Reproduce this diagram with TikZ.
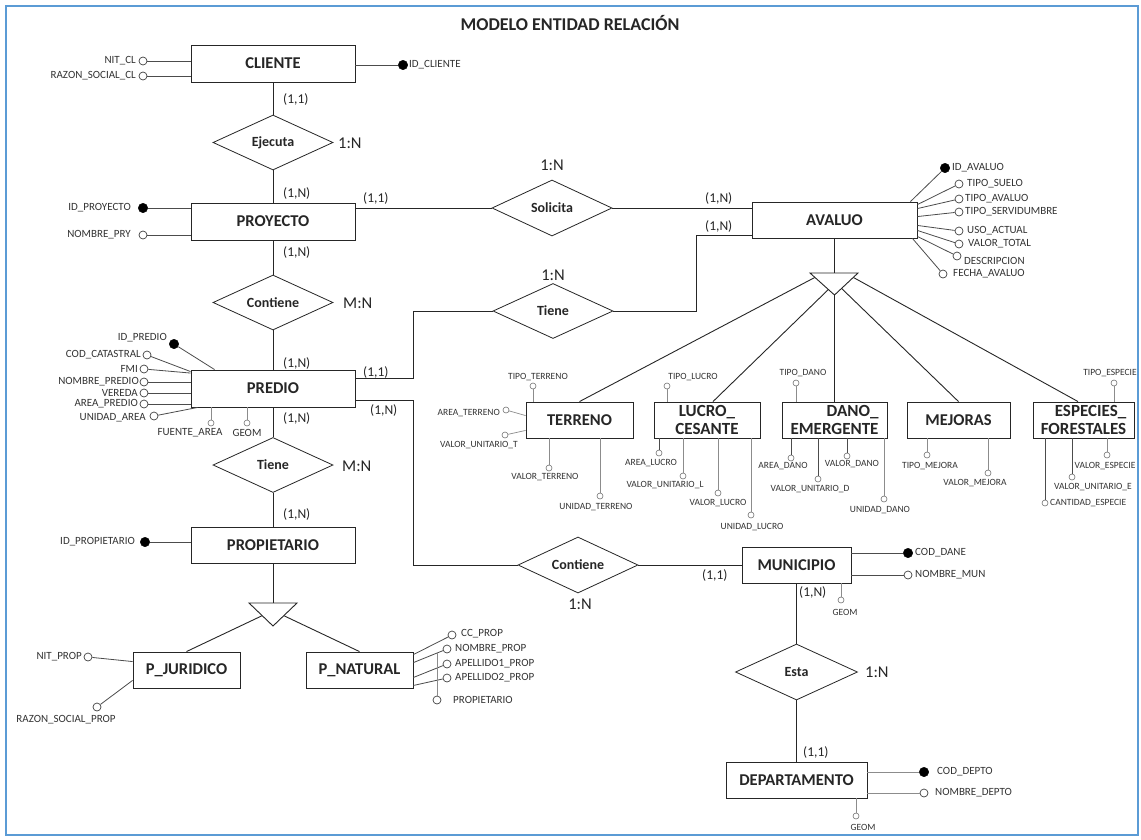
\documentclass[tikz,border=0pt]{standalone}
\usepackage{fontspec}
\setmainfont{Carlito}
\usetikzlibrary{shapes.geometric,calc}
\definecolor{frameblue}{HTML}{5B9BD5}
\definecolor{ink}{HTML}{262626}
\newcommand\TitF{\fontsize{18}{20}\selectfont\bfseries}
\newcommand\EntF{\fontsize{16.5}{18}\selectfont\bfseries}
\newcommand\EntTwoF{\fontsize{17}{18}\selectfont\bfseries}
\newcommand\RelF{\fontsize{14}{16}\selectfont\bfseries}
\newcommand\CardF{\fontsize{13.5}{15}\selectfont}
\newcommand\RatF{\fontsize{16.5}{18}\selectfont}
\newcommand\AttF{\fontsize{11}{12}\selectfont}
\newcommand\SAttF{\fontsize{9.5}{11}\selectfont}
\tikzset{
  ent/.style={draw=ink, line width=0.9pt, fill=white, font=\EntF, text=ink, minimum height=36pt, inner sep=0pt},
  enttwo/.style={ent, font=\EntTwoF},
  rel/.style={diamond, draw=ink, line width=0.8pt, fill=white, aspect=2.2, minimum width=120pt, minimum height=55pt, inner sep=0pt, font=\RelF, text=ink},
  card/.style={font=\CardF, inner sep=0pt, anchor=west, text=ink},
  ratio/.style={font=\RatF, inner sep=0pt, text=ink},
  att/.style={circle, draw=black!75, line width=0.7pt, fill=white, minimum size=8pt, inner sep=0pt},
  keyatt/.style={circle, draw=black, fill=black, minimum size=9.5pt, inner sep=0pt},
  satt/.style={circle, draw=black!55, line width=0.6pt, fill=white, minimum size=6pt, inner sep=0pt},
  lab/.style={font=\AttF, inner sep=0pt, text=black!80},
  slab/.style={font=\SAttF, inner sep=0pt, text=black!80},
  conn/.style={draw=ink, line width=0.9pt},
  aconn/.style={draw=black!70, line width=0.8pt},
  sconn/.style={draw=black!45, line width=0.7pt},
}
\begin{document}
\begin{tikzpicture}[x=1pt,y=-1pt]
\useasboundingbox (0,0) rectangle (1141,839);
\fill[white] (0,0) rectangle (1141,839);
\draw[frameblue, line width=2.2pt] (6,6) rectangle (1138,835);

\node[font=\TitF, text=ink, inner sep=0pt] (title) at (570,23) {MODELO ENTIDAD RELACIÓN};

% ---------------- entities
\node[ent, minimum width=164pt, minimum height=37pt] (cli) at (273,63.5) {CLIENTE};
\node[ent, minimum width=164pt, minimum height=37pt] (pry) at (273,221.5) {PROYECTO};
\node[ent, minimum width=164pt, minimum height=37pt] (pre) at (273,388.5) {PREDIO};
\node[ent, minimum width=164pt] (prop) at (273,545) {PROPIETARIO};
\node[ent, minimum width=107pt] (pj) at (186.5,670) {P\_JURIDICO};
\node[ent, minimum width=107pt] (pn) at (359.5,670) {P\_NATURAL};
\node[ent, minimum width=165pt] (ava) at (834.5,220) {AVALUO};
\node[ent, minimum width=107pt] (ter) at (579.5,420) {TERRENO};
\node[enttwo, align=center, minimum width=106pt] (luc) at (707,420) {LUCRO\_\\CESANTE};
\node[enttwo, align=right, minimum width=105pt] (dan) at (834.5,420) {DANO\_\\EMERGENTE};
\node[ent, minimum width=103pt] (mej) at (958.5,420) {MEJORAS};
\node[enttwo, align=right, minimum width=101pt] (esp) at (1083.5,420) {ESPECIES\_\\FORESTALES};
\node[ent, minimum width=109pt] (mun) at (796.5,565) {MUNICIPIO};
\node[ent, minimum width=141pt] (dep) at (796.5,780) {DEPARTAMENTO};

% ---------------- relationships
\node[rel] (eje) at (273,142.5) {Ejecuta};
\node[rel] (cont1) at (273,302.5) {Contiene};
\node[rel] (tiene2) at (273,465) {Tiene};
\node[rel, minimum height=56pt] (sol) at (552,208) {Solicita};
\node[rel] (tiene1) at (553,311) {Tiene};
\node[rel, minimum height=56pt] (cont2) at (578,565) {Contiene};
\node[rel, minimum width=122pt, minimum height=56pt] (esta) at (796.5,672) {Esta};

% ---------------- helper coordinates
\coordinate (jx) at (413,0);
\coordinate (jy) at (696,0);
\coordinate (ava2) at ([yshift=-15pt]ava.west);

% ---------------- main connectors
\draw[conn] (cli.south) -- (eje.north);
\draw[conn] (eje.south) -- (pry.north);
\draw[conn] (pry.south) -- (cont1.north);
\draw[conn] (cont1.south) -- (pre.north);
\draw[conn] (pre.south) -- (tiene2.north);
\draw[conn] (tiene2.south) -- (prop.north);
\draw[conn] (sol.west) -- (sol.west -| pry.east);
\draw[conn] (sol.east) -- (sol.east -| ava.west);
\draw[conn] ([yshift=10.5pt]pre.east) -| (jx |- tiene1.west) -- (tiene1.west);
\draw[conn] (tiene1.east) -| (jy |- ava2) -- (ava2);
\draw[conn] ([yshift=-11.5pt]pre.east) -| (jx |- cont2.west) -- (cont2.west);
\draw[conn] (cont2.east) -- (mun.west);
\draw[conn] (mun.south) -- (esta.north);
\draw[conn] (esta.south) -- (dep.north);

% ---------------- ISA triangle AVALUO
\coordinate (t1l) at (810,273);
\coordinate (t1r) at (858,273);
\coordinate (t1b) at (834.5,295);
\coordinate (t1a) at ($(t1l)!0.2!(t1b)$);
\coordinate (t1c) at ($(t1l)!0.75!(t1b)$);
\coordinate (t1d) at ($(t1r)!0.7!(t1b)$);
\coordinate (t1e) at ($(t1r)!0.2!(t1b)$);
\draw[conn] (ava.south) -- (ava.south |- t1l);
\draw[conn] (t1a) -- (ter.north);
\draw[conn] (t1c) -- ([xshift=6pt]luc.north);
\draw[conn] (t1b) -- (dan.north);
\draw[conn] (t1d) -- (mej.north);
\draw[conn] (t1e) -- ([xshift=-5.5pt]esp.north);
\draw[conn, fill=white] (t1l) -- (t1r) -- (t1b) -- cycle;

% ---------------- ISA triangle PROPIETARIO
\coordinate (t2l) at (249,603);
\coordinate (t2r) at (297,603);
\coordinate (t2b) at (273,626);
\coordinate (t2a) at ($(t2l)!0.55!(t2b)$);
\coordinate (t2c) at ($(t2r)!0.55!(t2b)$);
\draw[conn] (prop.south) -- (prop.south |- t2l);
\draw[conn] (t2a) -- (pj.north);
\draw[conn] (t2c) -- (pn.north);
\draw[conn, fill=white] (t2l) -- (t2r) -- (t2b) -- cycle;

% ---------------- cardinalities
\node[card] (c1) at (283,99) {(1,1)};
\node[card] (c2) at (283,193) {(1,N)};
\node[card] (c3) at (363,198) {(1,1)};
\node[card] (c4) at (283,252) {(1,N)};
\node[card] (c5) at (283,363) {(1,N)};
\node[card] (c6) at (363,372) {(1,1)};
\node[card] (c7) at (370,410) {(1,N)};
\node[card] (c8) at (283,418) {(1,N)};
\node[card] (c9) at (283,514) {(1,N)};
\node[card] (c10) at (705,198) {(1,N)};
\node[card] (c11) at (705,226) {(1,N)};
\node[card] (c12) at (702,575) {(1,1)};
\node[card] (c13) at (799,592) {(1,N)};
\node[card] (c14) at (803,752) {(1,1)};

% ---------------- ratios
\node[ratio, anchor=west] (r1) at (338,143) {1:N};
\node[ratio, anchor=west] (r2) at (343,303) {M:N};
\node[ratio, anchor=west] (r3) at (342,466) {M:N};
\node[ratio] (r4) at (552,165) {1:N};
\node[ratio] (r5) at (553,275) {1:N};
\node[ratio] (r6) at (580,604) {1:N};
\node[ratio, anchor=west] (r7) at (865,672) {1:N};

% ---------------- CLIENTE attributes
\node[att] (nitcl) at (143,61) {};
\node[lab, anchor=east] (lnitcl) at (136,61) {NIT\_CL};
\node[att] (razcl) at (143,76) {};
\node[lab, anchor=east] (lrazcl) at (136,76) {RAZON\_SOCIAL\_CL};
\node[keyatt] (idcl) at (403,65) {};
\node[lab, anchor=west] (lidcl) at (409,65) {ID\_CLIENTE};
\draw[aconn] (nitcl) -- (nitcl -| cli.west);
\draw[aconn] (razcl) -- (razcl -| cli.west);
\draw[aconn] (idcl) -- (idcl -| cli.east);

% ---------------- PROYECTO attributes
\node[keyatt] (idpry) at (143,208) {};
\node[lab, anchor=east] (lidpry) at (131,208) {ID\_PROYECTO};
\node[att] (nompry) at (143,235) {};
\node[lab, anchor=east] (lnompry) at (131,235) {NOMBRE\_PRY};
\draw[aconn] (idpry) -- (idpry -| pry.west);
\draw[aconn] (nompry) -- (nompry -| pry.west);

% ---------------- PREDIO attributes
\node[keyatt] (idpre) at (174,344) {};
\node[lab, anchor=east] (lidpre) at (167,338) {ID\_PREDIO};
\node[att] (codcat) at (147,355) {};
\node[lab, anchor=east] (lcodcat) at (141,355) {COD\_CATASTRAL};
\node[att] (fmi) at (144,369) {};
\node[lab, anchor=east] (lfmi) at (138,369) {FMI};
\node[att] (nompre) at (144,382) {};
\node[lab, anchor=east] (lnompre) at (139,382) {NOMBRE\_PREDIO};
\node[att] (vereda) at (144,393) {};
\node[lab, anchor=east] (lvereda) at (138,393) {VEREDA};
\node[att] (areapre) at (144,404) {};
\node[lab, anchor=east] (lareapre) at (138,404) {AREA\_PREDIO};
\node[att] (unidarea) at (154,416) {};
\node[lab, anchor=east] (lunidarea) at (146,418) {UNIDAD\_AREA};
\node[satt] (fuente) at (211,423) {};
\node[lab] (lfuente) at (190,433) {FUENTE\_AREA};
\node[satt] (geompre) at (247,423) {};
\node[lab] (lgeompre) at (247,433) {GEOM};
\draw[aconn] (idpre) -- ([xshift=24pt]pre.north west);
\draw[aconn] (codcat) -- ([yshift=-2pt]pre.north west);
\draw[aconn] (fmi) -- ([yshift=-3.5pt]pre.north west);
\draw[aconn] (nompre) -- (nompre -| pre.west);
\draw[aconn] (vereda) -- (vereda -| pre.west);
\draw[aconn] (areapre) -- (areapre -| pre.west);
\draw[aconn] (unidarea) -- ([xshift=7pt]pre.south west);
\draw[sconn] (fuente) -- (fuente |- pre.south);
\draw[sconn] (geompre) -- (geompre |- pre.south);

% ---------------- PROPIETARIO attributes
\node[keyatt] (idprop) at (145,542) {};
\node[lab, anchor=east] (lidprop) at (135,542) {ID\_PROPIETARIO};
\draw[aconn] (idprop) -- (idprop -| prop.west);

% ---------------- P_JURIDICO attributes
\node[att] (nitprop) at (88,657) {};
\node[lab, anchor=east] (lnitprop) at (82,657) {NIT\_PROP};
\node[att] (razprop) at (97,707) {};
\node[lab] (lrazprop) at (66,720) {RAZON\_SOCIAL\_PROP};
\draw[aconn] (nitprop) -- ([yshift=-10pt]pj.north west);
\draw[aconn] (razprop) -- ([yshift=8pt]pj.south west);

% ---------------- P_NATURAL attributes
\node[att] (ccprop) at (452,635) {};
\node[lab, anchor=west] (lccprop) at (461,634) {CC\_PROP};
\node[att] (nomprop) at (447,649) {};
\node[lab, anchor=west] (lnomprop) at (455,649) {NOMBRE\_PROP};
\node[att] (ape1) at (447,664) {};
\node[lab, anchor=west] (lape1) at (455,664) {APELLIDO1\_PROP};
\node[att] (ape2) at (447,678) {};
\node[lab, anchor=west] (lape2) at (455,678) {APELLIDO2\_PROP};
\node[att] (propat) at (437,700) {};
\node[lab, anchor=west] (lpropat) at (453,700) {PROPIETARIO};
\draw[aconn] (ccprop) -- ([yshift=-3pt]pn.north east);
\draw[aconn] (nomprop) -- ([yshift=-11pt]pn.north east);
\draw[aconn] (ape1) -- ([yshift=11pt]pn.south east);
\draw[aconn] (ape2) -- ([yshift=3pt]pn.south east);
\draw[sconn] (propat) -- (propat |- pn.north);

% ---------------- AVALUO attributes
\node[keyatt] (idava) at (945,168) {};
\node[lab, anchor=west] (lidava) at (952,168) {ID\_AVALUO};
\node[att] (tsuelo) at (959,184) {};
\node[lab, anchor=west] (ltsuelo) at (967,184) {TIPO\_SUELO};
\node[att] (tava) at (959,199) {};
\node[lab, anchor=west] (ltava) at (965,199) {TIPO\_AVALUO};
\node[att] (tserv) at (959,212) {};
\node[lab, anchor=west] (ltserv) at (965,212) {TIPO\_SERVIDUMBRE};
\node[att] (uso) at (959,231) {};
\node[lab, anchor=west] (luso) at (967,231) {USO\_ACTUAL};
\node[att] (valtot) at (959,244) {};
\node[lab, anchor=west] (lvaltot) at (968,244) {VALOR\_TOTAL};
\node[att] (desc) at (957,256) {};
\node[lab, anchor=west] (ldesc) at (964,261) {DESCRIPCION};
\node[att] (fecha) at (943,274) {};
\node[lab, anchor=west] (lfecha) at (953,274) {FECHA\_AVALUO};
\draw[aconn] (idava) -- ([xshift=-7pt]ava.north east);
\draw[aconn] (tsuelo) -- ([yshift=-3pt]ava.north east);
\draw[aconn] (tava) -- ([yshift=-7pt]ava.north east);
\draw[aconn] (tserv) -- ([yshift=-15pt]ava.north east);
\draw[aconn] (uso) -- ([yshift=13pt]ava.south east);
\draw[aconn] (valtot) -- ([yshift=8pt]ava.south east);
\draw[aconn] (desc) -- ([yshift=2pt]ava.south east);
\draw[aconn] (fecha) -- ([xshift=-5pt]ava.south east);

% ---------------- TERRENO attributes
\node[satt] (tipoter) at (533,386) {};
\node[slab] (ltipoter) at (538,377) {TIPO\_TERRENO};
\node[satt] (areater) at (506,410) {};
\node[slab, anchor=east] (lareater) at (500,413) {AREA\_TERRENO};
\node[satt] (valunit) at (505,435) {};
\node[slab] (lvalunit) at (479,445) {VALOR\_UNITARIO\_T};
\node[satt] (valter) at (549,468) {};
\node[slab] (lvalter) at (545,477) {VALOR\_TERRENO};
\node[satt] (uniter) at (600,496) {};
\node[slab] (luniter) at (596,507) {UNIDAD\_TERRENO};
\draw[sconn] (tipoter) -- (tipoter |- ter.north);
\draw[sconn] (areater) -- ([yshift=-14pt]ter.north west);
\draw[sconn] (valunit) -- ([yshift=8pt]ter.south west);
\draw[sconn] (valter) -- (valter |- ter.south);
\draw[sconn] (uniter) -- (uniter |- ter.south);

% ---------------- LUCRO_CESANTE attributes
\node[satt] (tipoluc) at (667,386) {};
\node[slab] (ltipoluc) at (693,377) {TIPO\_LUCRO};
\node[satt] (arealuc) at (659,453) {};
\node[slab] (larealuc) at (651,463) {AREA\_LUCRO};
\node[satt] (valunil) at (683,476) {};
\node[slab] (lvalunil) at (665,485) {VALOR\_UNITARIO\_L};
\node[satt] (valluc) at (718,493) {};
\node[slab] (lvalluc) at (718,503) {VALOR\_LUCRO};
\node[satt] (uniluc) at (751,515) {};
\node[slab] (luniluc) at (752,527) {UNIDAD\_LUCRO};
\draw[sconn] (tipoluc) -- (tipoluc |- luc.north);
\draw[aconn] (arealuc) -- (arealuc |- luc.south);
\draw[sconn] (valunil) -- (valunil |- luc.south);
\draw[sconn] (valluc) -- (valluc |- luc.south);
\draw[sconn] (uniluc) -- (uniluc |- luc.south);

% ---------------- DANO_EMERGENTE attributes
\node[satt] (tipodan) at (796,383) {};
\node[slab] (ltipodan) at (803,373) {TIPO\_DANO};
\node[satt] (areadan) at (791,458) {};
\node[slab] (lareadan) at (783,466) {AREA\_DANO};
\node[satt] (valunid) at (818,479) {};
\node[slab] (lvalunid) at (810,489) {VALOR\_UNITARIO\_D};
\node[satt] (valdan) at (847,456) {};
\node[slab] (lvaldan) at (852,464) {VALOR\_DANO};
\node[satt] (unidan) at (884,499) {};
\node[slab] (lunidan) at (880,510) {UNIDAD\_DANO};
\draw[sconn] (tipodan) -- (tipodan |- dan.north);
\draw[aconn] (areadan) -- (areadan |- dan.south);
\draw[aconn] (valunid) -- (valunid |- dan.south);
\draw[aconn] (valdan) -- (valdan |- dan.south);
\draw[sconn] (unidan) -- (unidan |- dan.south);

% ---------------- MEJORAS attributes
\node[satt] (tipomej) at (927,455) {};
\node[slab] (ltipomej) at (930,466) {TIPO\_MEJORA};
\node[satt] (valmej) at (988,473) {};
\node[slab] (lvalmej) at (975,483) {VALOR\_MEJORA};
\draw[sconn] (tipomej) -- (tipomej |- mej.south);
\draw[sconn] (valmej) -- (valmej |- mej.south);

% ---------------- ESPECIES_FORESTALES attributes
\node[satt] (tipoesp) at (1114,383) {};
\node[slab] (ltipoesp) at (1110,373) {TIPO\_ESPECIE};
\node[satt] (valesp) at (1107,455) {};
\node[slab] (lvalesp) at (1105,466) {VALOR\_ESPECIE};
\node[satt] (valunie) at (1072,477) {};
\node[slab] (lvalunie) at (1093,487) {VALOR\_UNITARIO\_E};
\node[satt] (cantesp) at (1045,503) {};
\node[slab, anchor=west] (lcantesp) at (1050,503) {CANTIDAD\_ESPECIE};
\draw[sconn] (tipoesp) -- (tipoesp |- esp.north);
\draw[sconn] (valesp) -- (valesp |- esp.south);
\draw[aconn] (valunie) -- (valunie |- esp.south);
\draw[aconn] (cantesp) -- (cantesp |- esp.south);

% ---------------- MUNICIPIO attributes
\node[keyatt] (coddane) at (908,553) {};
\node[lab, anchor=west] (lcoddane) at (915,553) {COD\_DANE};
\node[att] (nommun) at (908,575) {};
\node[lab, anchor=west] (lnommun) at (915,575) {NOMBRE\_MUN};
\node[satt] (geommun) at (841,600) {};
\node[slab] (lgeommun) at (845,612) {GEOM};
\draw[aconn] (coddane) -- (coddane -| mun.east);
\draw[aconn] (nommun) -- (nommun -| mun.east);
\draw[sconn] (geommun) -- (geommun |- mun.south);

% ---------------- DEPARTAMENTO attributes
\node[keyatt] (coddep) at (924,772) {};
\node[lab, anchor=west] (lcoddep) at (937,772) {COD\_DEPTO};
\node[att] (nomdep) at (924,793) {};
\node[lab, anchor=west] (lnomdep) at (935,793) {NOMBRE\_DEPTO};
\node[satt] (geomdep) at (856,816) {};
\node[slab] (lgeomdep) at (863,827) {GEOM};
\draw[sconn] (coddep) -- (coddep -| dep.east);
\draw[sconn] (nomdep) -- (nomdep -| dep.east);
\draw[sconn] (geomdep) -- (geomdep |- dep.south);
\end{tikzpicture}
\end{document}
